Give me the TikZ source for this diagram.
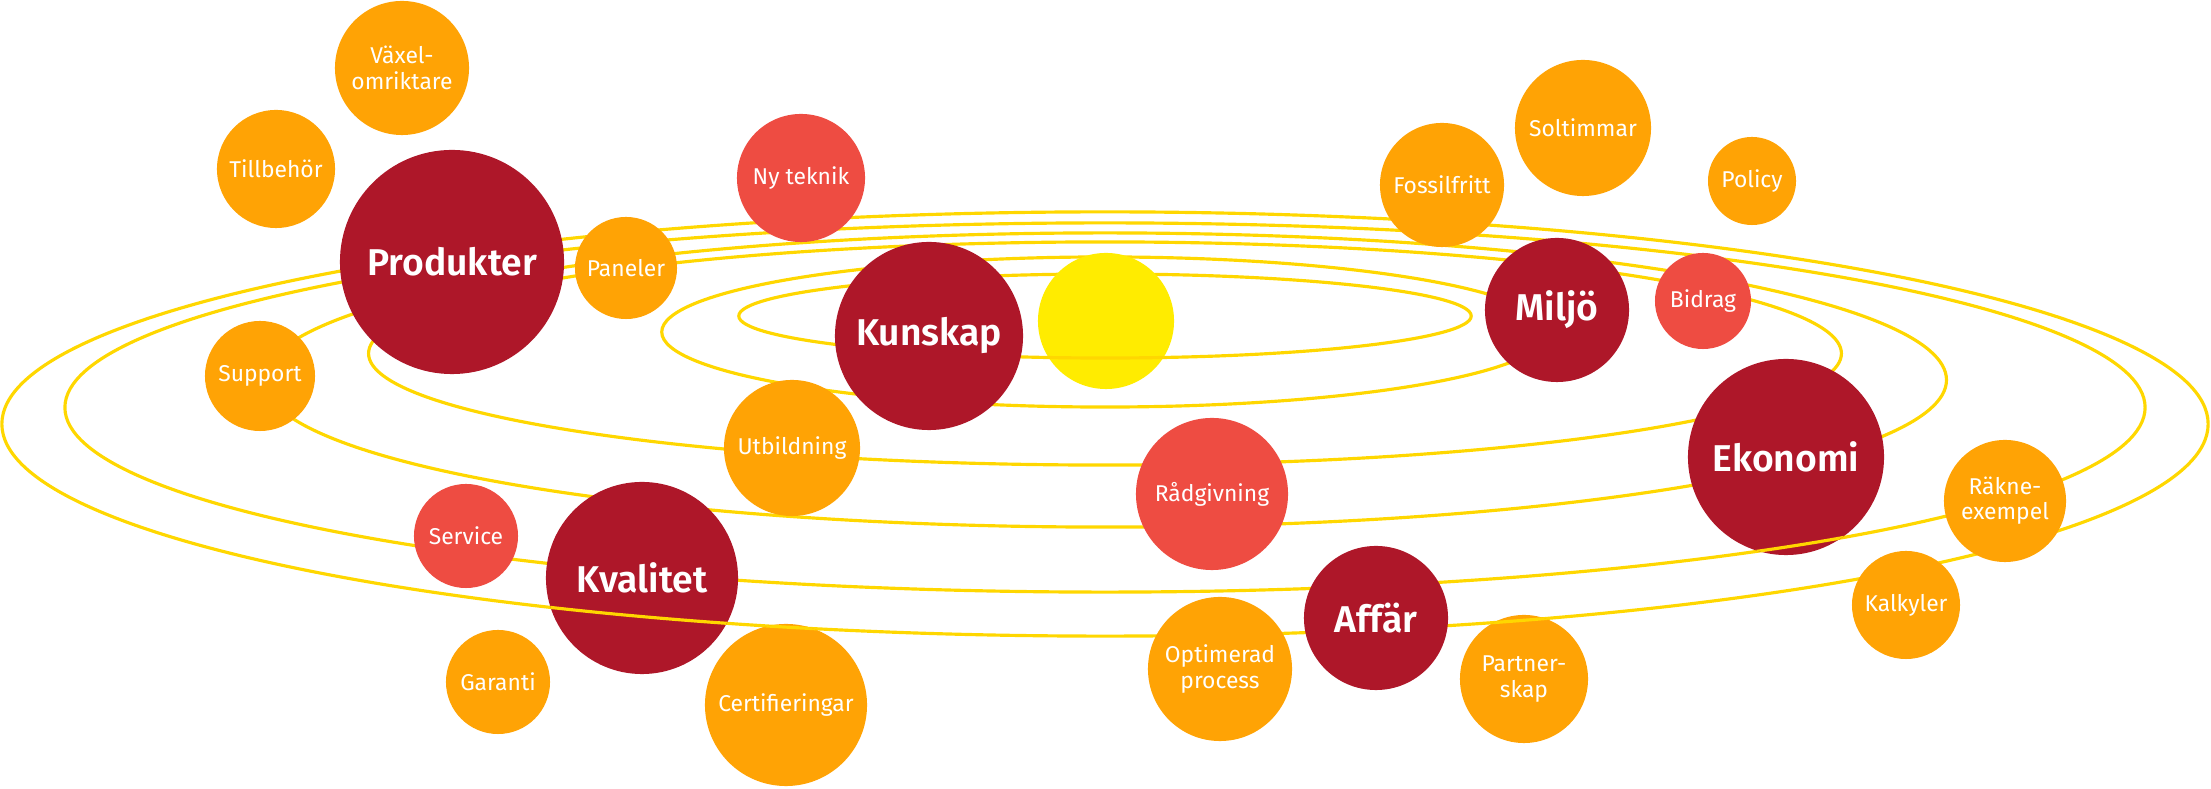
\documentclass[tikz,border=0pt]{standalone}
\usepackage{fontspec}
\setmainfont{Fira Sans}[BoldFont={Fira Sans SemiBold}]

\definecolor{planetred}{HTML}{AE1729}
\definecolor{moonorange}{HTML}{FFA305}
\definecolor{moonred}{HTML}{EE4C42}
\definecolor{sunyellow}{HTML}{FFEC00}
\definecolor{orbitgold}{HTML}{FFD700}

\tikzset{
  orbit/.style={draw=orbitgold, line width=0.9pt},
  bubble/.style={circle, inner sep=0pt, align=center, text=white},
  planet/.style={bubble, fill=planetred, font=\fontsize{10.6}{12}\selectfont\bfseries},
  moon/.style={bubble, fill=moonorange, font=\fontsize{6.5}{7.2}\selectfont},
  comet/.style={bubble, fill=moonred, font=\fontsize{6.5}{7.2}\selectfont}
}

\begin{document}
\begin{tikzpicture}[x=0.01cm, y=-0.01cm]
        \useasboundingbox (0,0) rectangle (2211,789);

        % orbits
        \draw[orbit] (1105,316) ellipse (3.66cm and 0.42cm);
        \draw[orbit] (1105,332) ellipse (4.43cm and 0.75cm);
        \draw[orbit] (1105,353.5) ellipse (7.36cm and 1.115cm);
        \draw[orbit] (1105,380) ellipse (8.41cm and 1.47cm);
        \draw[orbit] (1105,407.5) ellipse (10.395cm and 1.845cm);
        \draw[orbit] (1105,424) ellipse (11.025cm and 2.12cm);

        % sun
        \node[bubble, fill=sunyellow, minimum size=1.36cm] (sun) at (1106,321) {};

        % planets
        \node[planet, minimum size=2.24cm] (produkter) at (452,262) {Produkter};
        \node[planet, minimum size=1.88cm] (kunskap) at (929,336) {Kunskap};
        \node[planet, minimum size=1.92cm] (kvalitet) at (642,578) {Kvalitet};
        \node[planet, minimum size=1.44cm] (miljo) at (1557,310) {Miljö};
        \node[planet, minimum size=1.96cm] (ekonomi) at (1786,457) {Ekonomi};
        \node[planet, minimum size=1.44cm] (affar) at (1376,618) {Affär};

        % red moons
        \node[comet, minimum size=1.28cm] (nyteknik) at (801,178) {Ny teknik};
        \node[comet, minimum size=1.04cm] (service) at (466,536) {Service};
        \node[comet, minimum size=1.52cm] (radgivning) at (1212,494) {Rådgivning};
        \node[comet, minimum size=0.96cm] (bidrag) at (1703,301) {Bidrag};

        % orange moons
        \node[moon, minimum size=1.34cm] (vaxel) at (402,68) {Växel-\\omriktare};
        \node[moon, minimum size=1.18cm] (tillbehor) at (276,169) {Tillbehör};
        \node[moon, minimum size=1.02cm] (paneler) at (626,268) {Paneler};
        \node[moon, minimum size=1.10cm] (support) at (260,376) {Support};
        \node[moon, minimum size=1.04cm] (garanti) at (498,682) {Garanti};
        \node[moon, minimum size=1.62cm] (cert) at (786,705) {Certifieringar};
        \node[moon, minimum size=1.36cm] (utbildning) at (792,448) {Utbildning};
        \node[moon, minimum size=1.44cm] (optimerad) at (1220,669) {Optimerad\\process};
        \node[moon, minimum size=1.28cm] (partner) at (1524,679) {Partner-\\skap};
        \node[moon, minimum size=1.24cm] (fossil) at (1442,185) {Fossilfritt};
        \node[moon, minimum size=1.36cm] (soltimmar) at (1583,128) {Soltimmar};
        \node[moon, minimum size=0.88cm] (policy) at (1752,181) {Policy};
        \node[moon, minimum size=1.22cm] (rakne) at (2005,501) {Räkne-\\exempel};
        \node[moon, minimum size=1.08cm] (kalkyler) at (1906,605) {Kalkyler};

        % orbit parts in front
        \begin{scope}
          \clip (sun.center) circle (0.68cm);
          \draw[orbit] (739,316) arc[start angle=180, end angle=360, x radius=3.66cm, y radius=0.42cm];
        \end{scope}
        \begin{scope}
          \clip (ekonomi.center) circle (0.98cm);
          \draw[orbit] (1105,407.5) ellipse (10.395cm and 1.845cm);
        \end{scope}
        \begin{scope}
          \clip (kvalitet.center) circle (0.96cm) (cert.center) circle (0.81cm) (partner.center) circle (0.64cm);
          \draw[orbit] (1105,424) ellipse (11.025cm and 2.12cm);
        \end{scope}
\end{tikzpicture}
\end{document}
